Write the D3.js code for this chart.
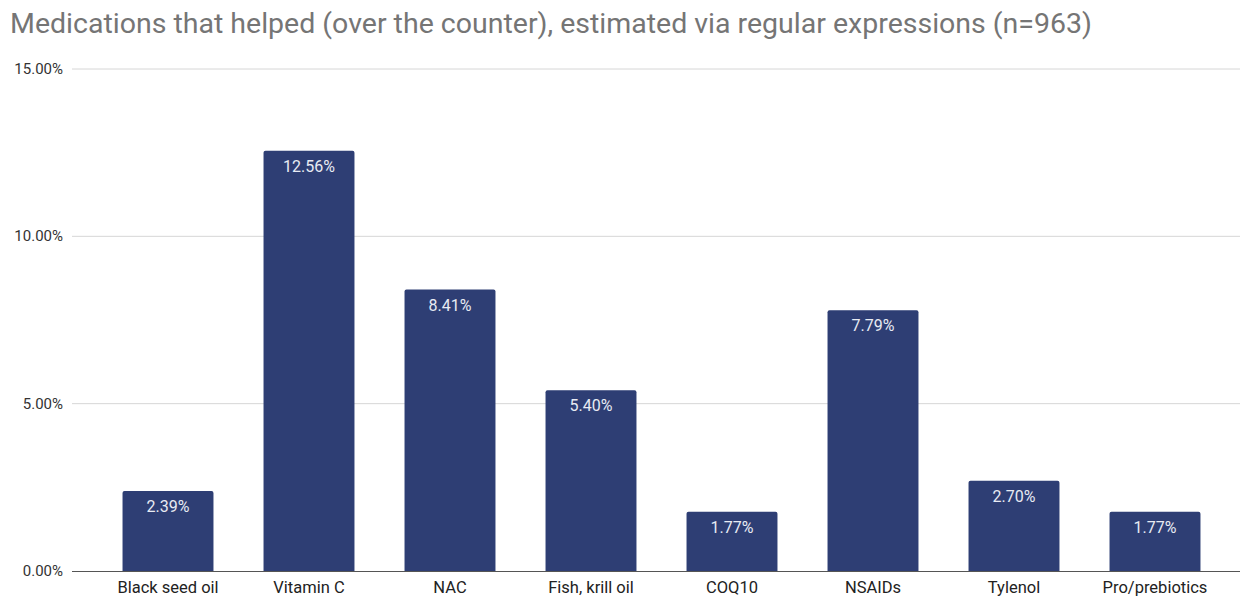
<!DOCTYPE html>
<html>
<head>
<meta charset="utf-8">
<script src="https://cdn.jsdelivr.net/npm/d3@7"></script>
<style>
  html, body { margin: 0; padding: 0; background: #fff; }
  svg { display: block; font-family: Roboto, "Noto Sans", sans-serif; }
</style>
</head>
<body>
<svg id="chart" width="1242" height="596"></svg>
<script>
// Share of respondents naming each over-the-counter medication (percent)
const categories = ["Black seed oil", "Vitamin C", "NAC", "Fish, krill oil", "COQ10", "NSAIDs", "Tylenol", "Pro/prebiotics"];
const values = [2.39, 12.56, 8.41, 5.40, 1.77, 7.79, 2.70, 1.77];
const yTicks = [0, 5, 10, 15];
const title = "Medications that helped (over the counter), estimated via regular expressions (n=963)";

const svg = d3.select("#chart");
const plot = { left: 72, right: 1240, top: 69, bottom: 571 };

const x = d3.scaleBand()
  .domain(categories)
  .range([97.5, 1225.5])
  .paddingInner(0.355)
  .paddingOuter(0.1775);

const y = d3.scaleLinear()
  .domain([0, 15])
  .range([plot.bottom, plot.top]);

// Title
svg.append("text")
  .attr("x", 10)
  .attr("y", 33)
  .attr("fill", "#757575")
  .style("font-size", "28.5px")
  .text(title);

// Horizontal gridlines
svg.append("g")
  .selectAll("line")
  .data(yTicks.filter(d => d > 0))
  .join("line")
  .attr("x1", plot.left)
  .attr("x2", plot.right)
  .attr("y1", d => y(d))
  .attr("y2", d => y(d))
  .attr("stroke", "#d6d6d6")
  .attr("stroke-width", 1);

// Y tick labels
svg.append("g")
  .selectAll("text")
  .data(yTicks)
  .join("text")
  .attr("x", 63)
  .attr("y", d => y(d) + 5)
  .attr("text-anchor", "end")
  .attr("fill", "#333")
  .style("font-size", "15px")
  .text(d => d3.format(".2f")(d) + "%");

// Bars with slightly rounded tops
const r = 2;
svg.append("g")
  .selectAll("path")
  .data(values)
  .join("path")
  .attr("fill", "#2e3e74")
  .attr("d", (d, i) => {
    const x0 = x(categories[i]), w = x.bandwidth();
    const yt = y(d), yb = y(0);
    return `M${x0},${yb}V${yt + r}Q${x0},${yt} ${x0 + r},${yt}H${x0 + w - r}Q${x0 + w},${yt} ${x0 + w},${yt + r}V${yb}Z`;
  });

// Baseline
svg.append("line")
  .attr("x1", plot.left)
  .attr("x2", plot.right)
  .attr("y1", y(0) + 0.5)
  .attr("y2", y(0) + 0.5)
  .attr("stroke", "#555")
  .attr("stroke-width", 1.2);

// Value labels inside bars
svg.append("g")
  .selectAll("text")
  .data(values)
  .join("text")
  .attr("x", (d, i) => x(categories[i]) + x.bandwidth() / 2)
  .attr("y", d => y(d) + 21)
  .attr("text-anchor", "middle")
  .attr("fill", "#e8ebf3")
  .style("font-size", "16px")
  .text(d => d3.format(".2f")(d) + "%");

// Category labels
svg.append("g")
  .selectAll("text")
  .data(categories)
  .join("text")
  .attr("x", d => x(d) + x.bandwidth() / 2)
  .attr("y", 593)
  .attr("text-anchor", "middle")
  .attr("fill", "#222")
  .style("font-size", "16.5px")
  .text(d => d);
</script>
</body>
</html>
